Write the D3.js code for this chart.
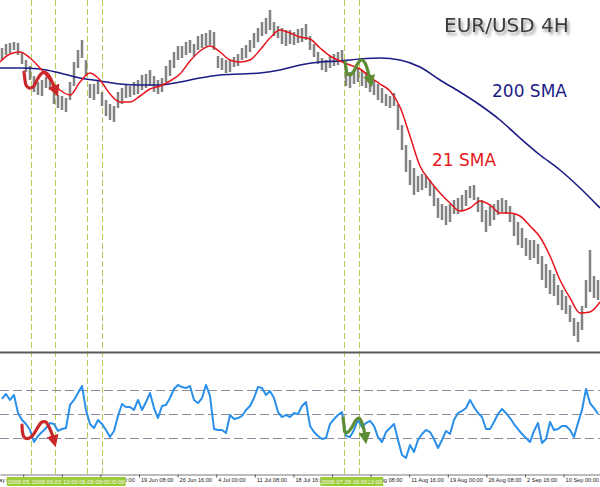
<!DOCTYPE html>
<html><head><meta charset="utf-8">
<script src="https://cdn.jsdelivr.net/npm/d3@7"></script>
<style>html,body{margin:0;padding:0;background:#fff;}svg{display:block;}</style>
</head><body>
<script>
// ---- DATA ----
// 4H bars, price highs / lows (each entry = one bar slot)
const highs=[1.5812,1.5836,1.5842,1.5848,1.5842,1.5788,1.5740,1.5704,1.5644,1.5608,
 1.5620,1.5638,1.5632,1.5560,1.5530,1.5524,1.5512,1.5608,1.5728,1.5800,
 1.5860,1.5740,1.5596,1.5596,1.5620,1.5548,1.5500,1.5476,1.5464,1.5548,
 1.5572,1.5596,1.5584,1.5608,1.5620,1.5650,1.5656,1.5680,1.5644,1.5620,
 1.5632,1.5704,1.5740,1.5788,1.5824,1.5824,1.5848,1.5860,1.5836,1.5884,
 1.5896,1.5902,1.5920,1.5908,1.5764,1.5752,1.5740,1.5740,1.5758,1.5776,
 1.5812,1.5830,1.5860,1.5902,1.5932,1.5968,1.5992,1.6040,1.5968,1.5944,
 1.5932,1.5920,1.5920,1.5908,1.5926,1.5932,1.5956,1.5884,1.5836,1.5788,
 1.5752,1.5740,1.5764,1.5776,1.5788,1.5800,1.5692,1.5668,1.5680,1.5692,
 1.5680,1.5668,1.5644,1.5620,1.5596,1.5572,1.5536,1.5524,1.5542,1.5476,
 1.5350,1.5230,1.5140,1.5092,1.5044,1.5056,1.5044,1.5020,1.4984,1.4912,
 1.4876,1.4864,1.4876,1.4900,1.4912,1.4930,1.4960,1.4984,1.4990,1.4918,
 1.4900,1.4840,1.4864,1.4876,1.4900,1.4912,1.4900,1.4864,1.4816,1.4768,
 1.4732,1.4672,1.4660,1.4660,1.4636,1.4564,1.4516,1.4480,1.4456,1.4390,
 1.4360,1.4324,1.4270,1.4192,1.4168,1.4264,1.4420,1.4600,1.4444,1.4420];
const lows=[1.5740,1.5770,1.5782,1.5800,1.5770,1.5716,1.5668,1.5620,1.5548,1.5530,
 1.5524,1.5572,1.5560,1.5476,1.5452,1.5440,1.5428,1.5500,1.5584,1.5692,
 1.5752,1.5644,1.5512,1.5500,1.5536,1.5464,1.5404,1.5380,1.5368,1.5452,
 1.5476,1.5512,1.5518,1.5530,1.5536,1.5560,1.5572,1.5584,1.5548,1.5536,
 1.5548,1.5608,1.5644,1.5692,1.5740,1.5752,1.5770,1.5782,1.5764,1.5800,
 1.5812,1.5824,1.5830,1.5800,1.5692,1.5680,1.5662,1.5668,1.5698,1.5704,
 1.5740,1.5752,1.5788,1.5812,1.5848,1.5884,1.5896,1.5920,1.5884,1.5872,
 1.5836,1.5824,1.5836,1.5830,1.5842,1.5848,1.5860,1.5800,1.5758,1.5716,
 1.5680,1.5668,1.5692,1.5704,1.5710,1.5728,1.5584,1.5572,1.5596,1.5608,
 1.5584,1.5572,1.5548,1.5530,1.5500,1.5482,1.5464,1.5452,1.5464,1.5320,
 1.5200,1.5068,1.4990,1.4930,1.4948,1.4960,1.4972,1.4924,1.4864,1.4792,
 1.4780,1.4750,1.4768,1.4816,1.4816,1.4840,1.4864,1.4912,1.4900,1.4828,
 1.4768,1.4708,1.4744,1.4780,1.4810,1.4828,1.4816,1.4768,1.4684,1.4630,
 1.4612,1.4564,1.4540,1.4552,1.4516,1.4420,1.4372,1.4336,1.4324,1.4270,
 1.4240,1.4216,1.4168,1.4084,1.4048,1.4120,1.4252,1.4348,1.4312,1.4300];
// 21 SMA, sampled every 2.5 bar slots
const sma21Step=2.5;
const sma21=[1.5728,1.5776,1.5788,1.5752,1.5692,1.5620,1.5560,1.5530,1.5608,1.5662,
 1.5620,1.5536,1.5488,1.5488,1.5524,1.5566,1.5584,1.5614,1.5656,1.5734,
 1.5794,1.5824,1.5788,1.5740,1.5728,1.5740,1.5800,1.5872,1.5920,1.5902,
 1.5878,1.5866,1.5812,1.5764,1.5734,1.5710,1.5686,1.5638,1.5596,1.5554,
 1.5458,1.5284,1.5104,1.5014,1.4942,1.4882,1.4834,1.4852,1.4894,1.4870,
 1.4822,1.4822,1.4804,1.4744,1.4678,1.4564,1.4420,1.4312,1.4222,1.4228,
 1.4288];
// 200 SMA, sampled every 5 bar slots
const sma200Step=5;
const sma200=[1.5692,1.5692,1.5686,1.5662,1.5632,1.5614,1.5596,1.5590,1.5590,1.5608,
 1.5632,1.5650,1.5656,1.5662,1.5680,1.5710,1.5728,1.5734,1.5746,1.5752,
 1.5740,1.5698,1.5620,1.5548,1.5470,1.5380,1.5272,1.5170,1.5080,1.4972,
 1.4852];
// RSI per bar slot
const rsi=[62.3,66.4,61.5,65.6,50.8,45.1,41.8,36.9,27.0,32.0,
 35.2,38.5,42.6,41.8,36.1,37.7,38.5,57.4,61.5,67.2,
 73.0,53.3,41.8,38.5,45.1,41.8,36.9,31.1,36.1,48.4,
 58.2,55.7,55.7,53.3,61.5,53.3,59.8,67.2,54.9,46.7,
 56.6,57.4,63.1,70.5,73.8,72.1,71.3,73.0,61.5,59.0,
 63.1,73.8,64.8,37.7,36.9,36.9,34.4,49.2,45.9,46.7,
 48.4,53.3,56.6,63.1,72.1,71.3,65.6,68.9,63.1,51.6,
 47.5,49.2,47.5,50.8,50.0,56.6,59.8,40.2,35.2,32.0,
 29.5,30.3,41.8,45.9,49.2,51.6,32.0,31.1,36.9,45.1,
 39.3,42.6,44.3,40.2,31.1,27.0,35.2,38.5,41.8,28.7,
 16.4,13.9,24.6,18.9,28.7,33.6,36.9,35.2,29.5,22.1,
 28.7,36.1,33.6,45.1,50.8,52.5,54.9,61.5,55.7,50.8,
 47.5,37.7,37.7,43.4,50.0,54.1,50.8,46.7,41.8,37.7,
 33.6,30.3,27.0,36.1,42.6,26.2,29.5,43.4,36.9,37.7,
 40.2,40.2,36.9,31.1,42.6,53.3,70.5,59.0,54.9,50.0];
const rsiLevels=[30,50,70];
// time axis (labels fully hidden under the marker-line boxes are left blank)
const tickLabels=["20 May 00:00","","","12 Jun 00:00","19 Jun 08:00","26 Jun 16:00","4 Jul 00:00","11 Jul 08:00","18 Jul 16:00","","4 Aug 08:00","11 Aug 16:00","19 Aug 00:00","26 Aug 08:00","2 Sep 16:00","10 Sep 00:00"];
const tickBars=[-3.85,5.8,15.45,25.1,34.75,44.4,54.05,63.7,73.35,83.0,92.65,102.3,111.95,121.6,131.25,140.9];
// vertical marker lines
const vlineBars=[7.7,13.7,21.8,25.4,86.1,89.8];
const vlineLabels=["2008.05.29 04:00","2008.06.03 12:00","2008.06.09 08:00","2008.06.12 00:00","2008.07.29 16:00","2008.07.31 12:00"];
const vlineDrawOrder=[0,3,2,1,5,4];
// annotation arrows [bar slot, value]
const redArrowMain=[[6.0,1.5668],[6.25,1.5620],[6.5,1.5590],[7.25,1.5572],[8.25,1.5578],[9.25,1.5620],[10.25,1.5656],[11.25,1.5668],[12.25,1.5644],[13.25,1.5596],[13.75,1.5566]];
const greenArrowMain=[[86.25,1.5728],[86.5,1.5692],[86.75,1.5662],[87.5,1.5650],[88.5,1.5674],[89.5,1.5722],[90.5,1.5740],[91.25,1.5722],[91.75,1.5692],[92.25,1.5650],[92.5,1.5626]];
const redArrowRsi=[[5.5,41.0],[5.625,35.2],[6.0,31.1],[7.0,29.9],[8.25,32.8],[9.5,39.3],[10.5,43.4],[11.5,43.4],[12.25,39.3],[13.0,33.6],[13.375,29.5]];
const greenArrowRsi=[[85.75,46.7],[86.0,41.0],[86.25,35.2],[87.0,35.2],[88.0,39.3],[89.0,45.1],[89.75,46.7],[90.5,42.6],[91.0,36.9],[91.25,32.0]];

// ---- DRAW ----
const W=600,H=487;
const x=d3.scaleLinear().domain([0,150]).range([0,600]);
const y=d3.scaleLinear().domain([1.3988,1.6100]).range([352,0]);
const yr=d3.scaleLinear().domain([0,100]).range([475,353]);

const svg=d3.select("body").append("svg").attr("width",W).attr("height",H);
svg.append("rect").attr("width",W).attr("height",H).attr("fill","#fff");
const defs=svg.append("defs");
defs.append("clipPath").attr("id","cm").append("rect").attr("x",0).attr("y",0).attr("width",W).attr("height",351);
defs.append("clipPath").attr("id","cr").append("rect").attr("x",0).attr("y",354).attr("width",W).attr("height",120);
defs.append("clipPath").attr("id","ca").append("rect").attr("x",0).attr("y",470).attr("width",W).attr("height",17);
const f=defs.append("filter").attr("id","sh").attr("x","-10%").attr("y","-40%").attr("width","130%").attr("height","200%");
f.append("feDropShadow").attr("dx",2).attr("dy",3).attr("stdDeviation",1.8).attr("flood-color","#6f6f6f").attr("flood-opacity",0.75);
function marker(id,color){
  defs.append("marker").attr("id",id).attr("viewBox","0 0 10 10").attr("refX",3).attr("refY",5)
   .attr("markerWidth",12).attr("markerHeight",12).attr("markerUnits","userSpaceOnUse").attr("orient","auto")
   .append("path").attr("d","M0,0L10,5L0,10z").attr("fill",color);
}
marker("ar","#c8282a"); marker("ag","#5c8c34");

// vertical dashed lines
svg.append("g").selectAll("line").data(vlineBars).join("line")
  .attr("x1",d=>Math.round(x(d))+0.5).attr("x2",d=>Math.round(x(d))+0.5)
  .attr("y1",0).attr("y2",474)
  .attr("stroke","#b5cc52").attr("stroke-width",1).attr("stroke-dasharray","6,3");

// main panel
const gm=svg.append("g").attr("clip-path","url(#cm)");
gm.append("g").selectAll("line").data(highs).join("line")
  .attr("x1",(d,i)=>x(i+0.5)).attr("x2",(d,i)=>x(i+0.5))
  .attr("y1",d=>y(d)).attr("y2",(d,i)=>y(lows[i]))
  .attr("stroke","#828282").attr("stroke-width",2.5);

const line=d3.line().x(d=>x(d[0])).y(d=>y(d[1])).curve(d3.curveMonotoneX);
gm.append("path").datum(sma200.map((v,i)=>[i*sma200Step,v])).attr("d",line)
  .attr("fill","none").attr("stroke","#1c1c86").attr("stroke-width",1.6);
gm.append("path").datum(sma21.map((v,i)=>[i*sma21Step,v])).attr("d",line)
  .attr("fill","none").attr("stroke","#e8141c").attr("stroke-width",1.5);

const arrowLine=d3.line().curve(d3.curveCatmullRom.alpha(0.5));
function drawArrow(g,pts,sy,color,mk){
  g.append("path").attr("d",arrowLine(pts.map(p=>[x(p[0]),sy(p[1])])))
   .attr("fill","none").attr("stroke",color).attr("stroke-width",3.2)
   .attr("stroke-linecap","round").attr("stroke-linejoin","round").attr("marker-end",`url(#${mk})`);
}
drawArrow(gm,redArrowMain,y,"#c8282a","ar");
drawArrow(gm,greenArrowMain,y,"#5c8c34","ag");

// labels
svg.append("text").attr("x",444).attr("y",32).text("EUR/USD 4H")
  .attr("font-family","'DejaVu Sans',Verdana,sans-serif").attr("font-size",20).attr("fill","#3c3c3c").attr("filter","url(#sh)");
svg.append("text").attr("x",492).attr("y",97).text("200 SMA")
  .attr("font-family","'DejaVu Sans',Verdana,sans-serif").attr("font-size",17).attr("fill","#1c1c86");
svg.append("text").attr("x",432).attr("y",166).text("21 SMA")
  .attr("font-family","'DejaVu Sans',Verdana,sans-serif").attr("font-size",17).attr("fill","#e41a1c");

// separator
svg.append("line").attr("x1",0).attr("x2",W).attr("y1",352.5).attr("y2",352.5).attr("stroke","#5a5a5a").attr("stroke-width",2);

// RSI panel
const gr=svg.append("g").attr("clip-path","url(#cr)");
gr.selectAll("line.lv").data(rsiLevels).join("line").attr("class","lv")
  .attr("x1",0).attr("x2",W).attr("y1",d=>Math.round(yr(d))+0.5).attr("y2",d=>Math.round(yr(d))+0.5)
  .attr("stroke","#8c8c9c").attr("stroke-width",1.2).attr("stroke-dasharray","9,4");
gr.append("path").datum(rsi).attr("d",d3.line().x((d,i)=>x(i+0.5)).y(d=>yr(d)))
  .attr("fill","none").attr("stroke","#2a8fe8").attr("stroke-width",2).attr("stroke-linejoin","round");
drawArrow(gr,redArrowRsi,yr,"#c8282a","ar");
drawArrow(gr,greenArrowRsi,yr,"#5c8c34","ag");

// time axis
const ax=d3.axisBottom(x).tickValues(tickBars).tickFormat((d,i)=>tickLabels[i]).tickSize(3).tickSizeOuter(0);
const ga=svg.append("g").attr("transform","translate(0,474.5)").call(ax);
ga.select(".domain").attr("stroke","#7a7a7a");
ga.selectAll(".tick line").attr("stroke","#555");
ga.selectAll(".tick text").attr("text-anchor","start").attr("x",1.5).attr("y",4).attr("dy","0.71em")
  .attr("font-family","'Liberation Sans',Arial,sans-serif").attr("font-size",5.6).attr("fill","#222");

// vertical line labels on the time axis
const gl=svg.append("g");
vlineDrawOrder.forEach(k=>{
  const cx=x(vlineBars[k]);
  const g=gl.append("g");
  g.append("rect").attr("x",cx-24).attr("y",477).attr("width",48).attr("height",9).attr("fill","#9ccb3a");
  g.append("text").attr("x",cx).attr("y",484).attr("text-anchor","middle").text(vlineLabels[k])
   .attr("font-family","'Liberation Sans',Arial,sans-serif").attr("font-size",5.9).attr("fill","#f4faea");
});
</script>
</body></html>
